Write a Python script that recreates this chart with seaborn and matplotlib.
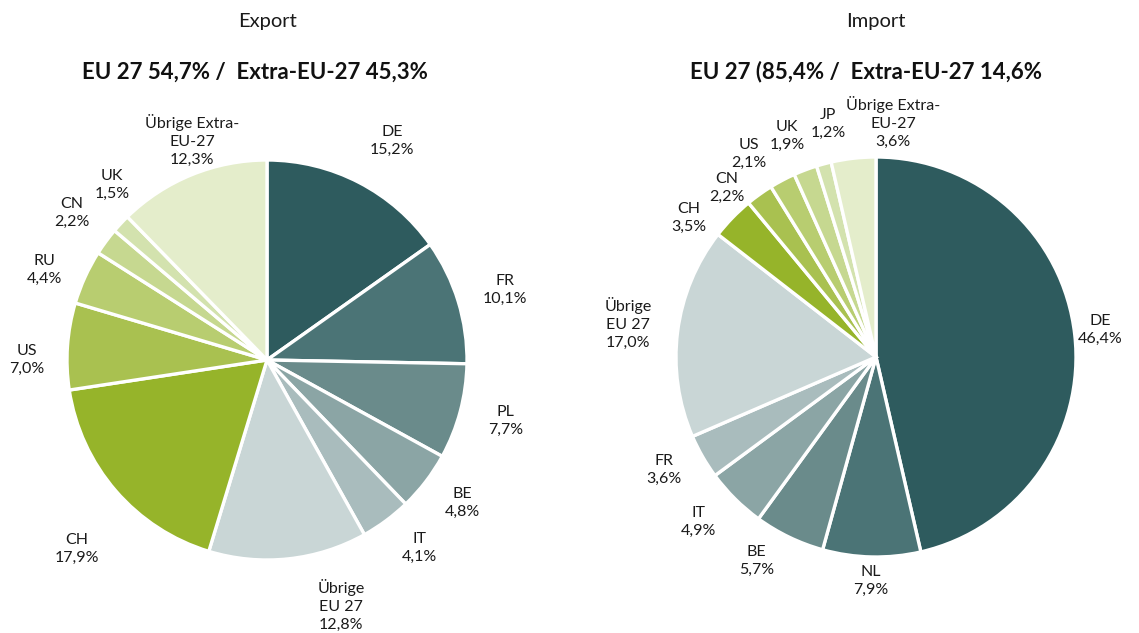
import matplotlib
matplotlib.use("Agg")
import numpy as np
import matplotlib.pyplot as plt
import seaborn as sns

# data (shares in %)
export_labels = ["DE", "FR", "PL", "BE", "IT", "Übrige\nEU 27",
                 "CH", "US", "RU", "CN", "UK", "Übrige Extra-\nEU-27"]
export_values = [15.2, 10.1, 7.7, 4.8, 4.1, 12.8, 17.9, 7.0, 4.4, 2.2, 1.5, 12.3]

import_labels = ["DE", "NL", "BE", "IT", "FR", "Übrige\nEU 27",
                 "CH", "CN", "US", "UK", "JP", "Übrige Extra-\nEU-27"]
import_values = [46.4, 7.9, 5.7, 4.9, 3.6, 17.0, 3.5, 2.2, 2.1, 1.9, 1.2, 3.6]

titles = ["Export", "Import"]
subtitles = ["EU 27 54,7% /  Extra-EU-27 45,3%", "EU 27 (85,4% /  Extra-EU-27 14,6%"]

colors = ["#2E5B5E", "#4B7476", "#6A8B8B", "#8BA5A5", "#A9BCBD", "#C9D6D6",
          "#96B42A", "#A9C150", "#B8CD70", "#C6D890", "#D3E2AE", "#E4EDCB"]

# label layout: angle nudge (deg) and distance (in radii), per slice
export_nudge = [-2.4, -0.7, 0.5, 1.3, 2.6, 10.7, 4.0, 4.0, 2.4, -0.6, -5.5, -3.3]
export_dist = [1.26, 1.24, 1.23, 1.21, 1.21, 1.28, 1.34, 1.2, 1.2, 1.22, 1.17, 1.16]
import_nudge = [0.4, 0.0, -4.7, -2.2, -1.9, -0.6, 7.5, 5.8, 4.1, 1.3, -3.5, -10.7]
import_dist = [1.13, 1.12, 1.18, 1.21, 1.2, 1.25, 1.165, 1.13, 1.2, 1.19, 1.19, 1.175]

sns.set_theme(style="white")
plt.rcParams["font.family"] = ["Lato", "DejaVu Sans"]

fig = plt.figure(figsize=(11.39, 6.33), dpi=100)
W, H = 1139, 633
R = 200
centers = [(267, 360), (876, 357)]
sub_x = [255, 866]

datasets = [(export_labels, export_values, export_nudge, export_dist),
            (import_labels, import_values, import_nudge, import_dist)]

for (cx, cy), sx, (labels, values, nudge, dist), title, sub in zip(
        centers, sub_x, datasets, titles, subtitles):
    ax = fig.add_axes([(cx - R) / W, (H - cy - R) / H, 2 * R / W, 2 * R / H])
    wedges, _ = ax.pie(values, colors=sns.color_palette(colors), startangle=90,
                       counterclock=False, radius=1,
                       wedgeprops=dict(edgecolor="white", linewidth=2.4))
    for w, lab, v, dn, d in zip(wedges, labels, values, nudge, dist):
        ang = np.deg2rad((w.theta1 + w.theta2) / 2 + dn)
        txt = f"{lab}\n{v:.1f}%".replace(".", ",")
        ax.text(d * np.cos(ang), d * np.sin(ang), txt, ha="center", va="center",
                fontsize=11.5, color="#1a1a1a", linespacing=1.35, clip_on=False)
    ax.set_xlim(-1, 1)
    ax.set_ylim(-1, 1)
    ax.set_aspect("equal")
    ax.axis("off")
    fig.text(cx / W, 1 - 22 / H, title, ha="center", va="center", fontsize=14.5,
             color="#1a1a1a")
    fig.text(sx / W, 1 - 72 / H, sub, ha="center", va="center", fontsize=16,
             fontweight="bold", color="#111111")

fig.savefig("out.png", dpi=100)
